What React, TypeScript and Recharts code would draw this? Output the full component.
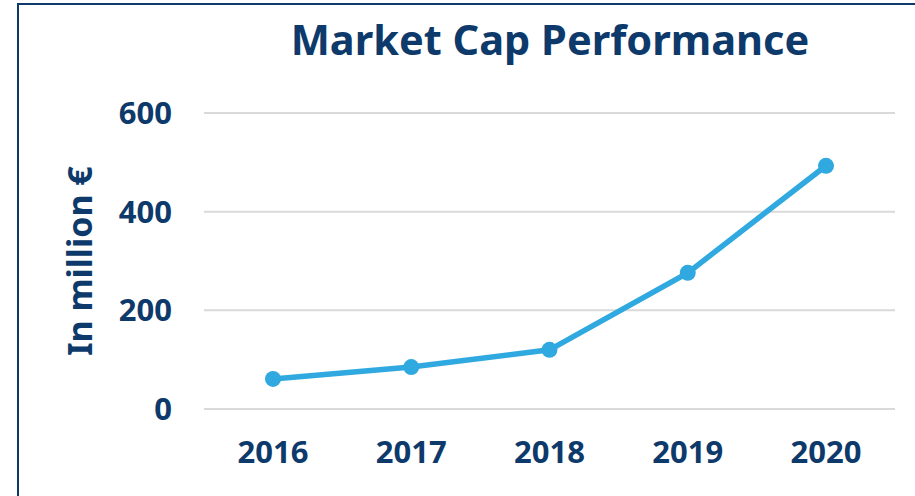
import React from "react"
import { LineChart, Line, XAxis, YAxis, CartesianGrid } from "recharts"

const years = ["2016", "2017", "2018", "2019", "2020"]
const marketCap = [61, 85, 120, 276, 493]
const yTicks = [0, 200, 400, 600]

const NAVY = "#0d3a6b"
const BLUE = "#2fa9e0"
const FONT = "'Noto Sans', sans-serif"

const data = years.map((y, i) => ({ year: y, value: marketCap[i] }))

export default function App() {
  return (
    <div style={{ position: "absolute", left: 0, top: 0, width: 915, height: 496, overflow: "hidden", background: "#fff" }}>
      <div style={{
        position: "absolute", left: 17, top: 3, width: 940, height: 520,
        border: `2px solid ${NAVY}`, boxSizing: "border-box",
      }} />
      <div style={{
        position: "absolute", left: 200, top: 10, width: 700, textAlign: "center",
        fontFamily: FONT, fontWeight: 700, fontSize: 41.5, color: NAVY, lineHeight: "58px",
      }}>
        Market Cap Performance
      </div>
      <div style={{ position: "absolute", left: 0, top: 0 }}>
        <LineChart width={915} height={496} data={data} margin={{ top: 113, right: 20, left: 124, bottom: 47 }}>
          <CartesianGrid vertical={false} stroke="#d9d9d9" strokeWidth={2} />
          <XAxis
            dataKey="year"
            axisLine={false}
            tickLine={false}
            height={40}
            tickSize={0}
            tickMargin={32}
            padding={{ left: 69, right: 69 }}
            tick={{ fontSize: 31, fontWeight: 700, fill: NAVY, fontFamily: FONT }}
          />
          <YAxis
            domain={[0, 600]}
            ticks={yTicks}
            axisLine={false}
            tickLine={false}
            width={80}
            tickSize={0}
            tickMargin={32}
            tick={{ fontSize: 31, fontWeight: 700, fill: NAVY, fontFamily: FONT }}
            label={{
              value: "In million €", angle: -90, position: "left", offset: 44,
              style: { fontSize: 34, fontWeight: 700, fill: NAVY, fontFamily: FONT, textAnchor: "middle" },
            }}
          />
          <Line
            type="linear" dataKey="value"
            stroke={BLUE} strokeWidth={5.5}
            dot={{ r: 8, fill: BLUE, stroke: BLUE, strokeWidth: 0 }}
            isAnimationActive={false}
          />
        </LineChart>
      </div>
    </div>
  )
}
